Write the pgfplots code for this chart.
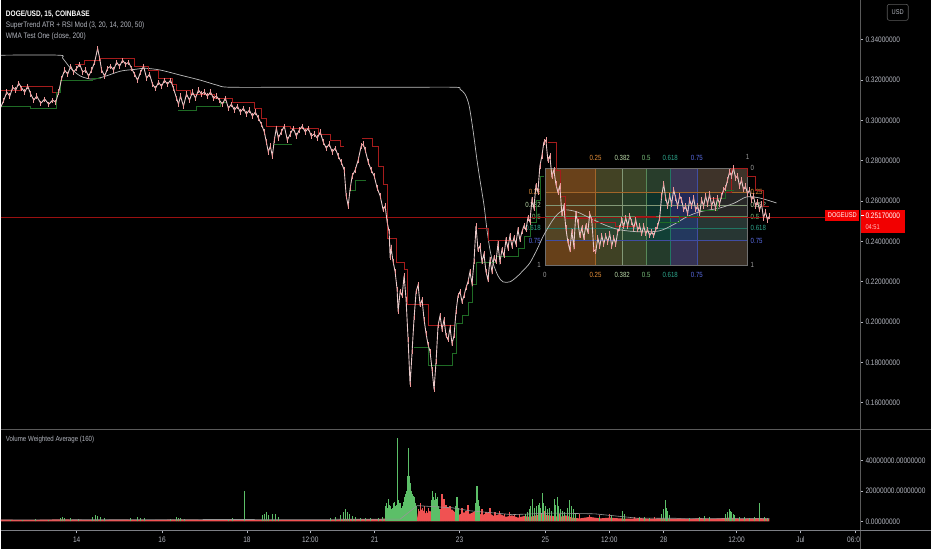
\documentclass[border=0pt]{standalone}
\usepackage{fontspec}
\setmainfont{Liberation Sans}[FakeStretch=0.82]
\usepackage{pgfplots}
\pgfplotsset{compat=1.18}

\definecolor{lbl}{HTML}{B2B5BE}
\definecolor{axgrey}{HTML}{5A5A5A}
\definecolor{candle}{HTML}{E8CACA}
\definecolor{stred}{HTML}{A51C1C}
\definecolor{stgreen}{HTML}{1F6B25}
\definecolor{lastline}{HTML}{9A1010}
\definecolor{wma}{HTML}{BDBDBD}
\definecolor{vgreen}{HTML}{5CBF68}
\definecolor{vred}{HTML}{F05252}
\definecolor{cA}{HTML}{E8913A}
\definecolor{cB}{HTML}{B9D9A8}
\definecolor{cC}{HTML}{7CC47F}
\definecolor{cD}{HTML}{2FA88E}
\definecolor{cE}{HTML}{5B6EE8}
\definecolor{cF}{HTML}{9E9E9E}
\definecolor{pricered}{HTML}{F20000}

\newcommand\tv[1]{\fontsize{#1}{#1}\selectfont}

\begin{document}
\begin{tikzpicture}
\fill[black] (0bp,0bp) rectangle (932bp,550bp);

% ---------------- price panel ----------------
\begin{axis}[
  at={(0bp,120bp)}, anchor=south west, scale only axis,
  width=861bp, height=430bp,
  xmin=0, xmax=861, ymin=0.1466, ymax=0.3595,
  axis line style={draw=none},
  xtick=\empty,
  ytick={0.16,0.18,0.20,0.22,0.24,0.26,0.28,0.30,0.32,0.34},
  yticklabels={0.16000000,0.18000000,0.20000000,0.22000000,0.24000000,0.26000000,0.28000000,0.30000000,0.32000000,0.34000000},
  ytick pos=right, yticklabel pos=right,
  tick align=outside, major tick length=3bp,
  every tick/.style={draw=lbl, line width=0.5bp},
  yticklabel style={font=\tv{8}, text=lbl, anchor=west, inner sep=0pt, xshift=2bp},
  unbounded coords=jump,
]
% fib time zones
\addplot[fill=cA, fill opacity=0.38, draw=none] coordinates {(545,0.2283) (595.75,0.2283) (595.75,0.2763) (545,0.2763)} --cycle;
\addplot[fill=cC!80!cA, fill opacity=0.3, draw=none] coordinates {(595.75,0.2283) (622.5,0.2283) (622.5,0.2763) (595.75,0.2763)} --cycle;
\addplot[fill=cC, fill opacity=0.3, draw=none] coordinates {(622.5,0.2283) (646.5,0.2283) (646.5,0.2763) (622.5,0.2763)} --cycle;
\addplot[fill=cD, fill opacity=0.3, draw=none] coordinates {(646.5,0.2283) (670.5,0.2283) (670.5,0.2763) (646.5,0.2763)} --cycle;
\addplot[fill=cE, fill opacity=0.38, draw=none] coordinates {(670.5,0.2283) (697.25,0.2283) (697.25,0.2763) (670.5,0.2763)} --cycle;
\addplot[fill=cF, fill opacity=0.25, draw=none] coordinates {(697.25,0.2283) (748,0.2283) (748,0.2763) (697.25,0.2763)} --cycle;
% fib price bands
\addplot[fill=cA, fill opacity=0.12, draw=none] coordinates {(545,0.2643) (748,0.2643) (748,0.2763) (545,0.2763)} --cycle;
\addplot[fill=cD, fill opacity=0.12, draw=none] coordinates {(545,0.2403) (748,0.2403) (748,0.2523) (545,0.2523)} --cycle;
\addplot[fill=cA, fill opacity=0.10, draw=none] coordinates {(545,0.2283) (748,0.2283) (748,0.2403) (545,0.2403)} --cycle;
% fib lines
\addplot[cA!70!black, line width=0.6bp] coordinates {(595.75,0.2283) (595.75,0.2763)};
\addplot[cB!70!black, line width=0.6bp] coordinates {(622.5,0.2283) (622.5,0.2763)};
\addplot[cC!70!black, line width=0.6bp] coordinates {(646.5,0.2283) (646.5,0.2763)};
\addplot[cD!70!black, line width=0.6bp] coordinates {(670.5,0.2283) (670.5,0.2763)};
\addplot[cE!70!black, line width=0.6bp] coordinates {(697.25,0.2283) (697.25,0.2763)};
\addplot[cA!70!black, line width=0.6bp] coordinates {(545,0.2643) (748,0.2643)};
\addplot[cB!70!black, line width=0.6bp] coordinates {(545,0.2580) (748,0.2580)};
\addplot[cC!70!black, line width=0.6bp] coordinates {(545,0.2523) (748,0.2523)};
\addplot[cD!70!black, line width=0.6bp] coordinates {(545,0.2466) (748,0.2466)};
\addplot[cE!70!black, line width=0.6bp] coordinates {(545,0.2403) (748,0.2403)};
\addplot[cF!70!black, line width=0.6bp] coordinates {(545,0.2283) (748,0.2283) (748,0.2763) (545,0.2763) (545,0.2283)};
% fib labels
\begin{scope}[every node/.style={font=\tv{7.5}, inner sep=0pt}]
\node[text=cA] at (axis cs:595.75,0.2813) {0.25};
\node[text=cB] at (axis cs:622.5,0.2813) {0.382};
\node[text=cC] at (axis cs:646.5,0.2813) {0.5};
\node[text=cD] at (axis cs:670.5,0.2813) {0.618};
\node[text=cE] at (axis cs:697.25,0.2813) {0.75};
\node[text=cF] at (axis cs:748,0.2818) {1};
\node[text=cF] at (axis cs:545,0.2234) {0};
\node[text=cA] at (axis cs:595.75,0.2234) {0.25};
\node[text=cB] at (axis cs:622.5,0.2234) {0.382};
\node[text=cC] at (axis cs:646.5,0.2234) {0.5};
\node[text=cD] at (axis cs:670.5,0.2234) {0.618};
\node[text=cE] at (axis cs:697.25,0.2234) {0.75};
\node[text=cF, anchor=west] at (axis cs:751,0.2763) {0};
\node[text=cA, anchor=west] at (axis cs:751,0.2643) {0.25};
\node[text=cB, anchor=west] at (axis cs:751,0.2580) {0.382};
\node[text=cC, anchor=west] at (axis cs:751,0.2523) {0.5};
\node[text=cD, anchor=west] at (axis cs:751,0.2466) {0.618};
\node[text=cE, anchor=west] at (axis cs:751,0.2403) {0.75};
\node[text=cF, anchor=west] at (axis cs:751,0.2283) {1};
\node[text=cA, anchor=east] at (axis cs:541,0.2643) {0.25};
\node[text=cB, anchor=east] at (axis cs:541,0.2580) {0.382};
\node[text=cC, anchor=east] at (axis cs:541,0.2523) {0.5};
\node[text=cD, anchor=east] at (axis cs:541,0.2466) {0.618};
\node[text=cE, anchor=east] at (axis cs:541,0.2403) {0.75};
\node[text=cF, anchor=east] at (axis cs:541,0.2283) {1};
\end{scope}
% last price line
\addplot[lastline, line width=0.7bp] coordinates {(0,0.2517) (826,0.2517)};
% WMA (close, 200)
\addplot[wma, line width=0.7bp, smooth] coordinates {
(0,0.3323) (58,0.3323) (62,0.3308) (70,0.3258) (80,0.3219) (92,0.3204) (105,0.3219)
(120,0.3244) (135,0.3253) (145,0.3258) (160,0.3249) (180,0.3224) (200,0.3199) (217,0.3174)
(230,0.3164) (300,0.3164) (400,0.3164) (455,0.3164) (460,0.3154) (465,0.3130) (469,0.3075)
(473,0.2952) (477,0.2803) (480,0.2704) (484,0.2580) (487,0.2457) (490,0.2358) (493,0.2293)
(498,0.2229) (503,0.2199) (510,0.2199) (517,0.2224) (523,0.2254) (530,0.2293) (537,0.2358)
(543,0.2422) (548,0.2466) (553,0.2506) (558,0.2536) (565,0.2556) (577,0.2546) (590,0.2516)
(605,0.2481) (620,0.2457) (640,0.2447) (660,0.2452) (675,0.2486) (687,0.2521) (700,0.2546)
(720,0.2565) (735,0.2590) (747,0.2620) (760,0.2615) (777,0.2590)};
% SuperTrend upper (red)
\addplot[stred, line width=0.55bp] coordinates {
(0,0.3150) (20,0.3150) (20,0.3169) (52,0.3169) (52,0.3140) (57,0.3140) (57,nan)
(74,0.3278) (84,0.3278) (84,0.3298) (100,0.3298) (100,0.3308) (134,0.3308) (134,0.3268)
(148,0.3268) (148,0.3249) (158,0.3249) (158,0.3209) (172,0.3209) (172,0.3179) (176,0.3179)
(176,0.3150) (190,0.3150) (190,0.3130) (214,0.3130) (214,0.3110) (232,0.3110) (232,0.3090)
(254,0.3090) (254,0.3060) (261,0.3060) (261,0.3011) (266,0.3011) (266,0.2971) (290,0.2971)
(290,0.2961) (318,0.2961) (318,0.2932) (330,0.2932) (330,0.2902) (340,0.2902) (340,0.2872)
(344,0.2872) (344,nan)
(362,0.2912) (372,0.2912) (372,0.2872) (378,0.2872) (378,0.2773) (383,0.2773) (383,0.2684)
(387,0.2684) (387,0.2417) (396,0.2417) (396,0.2298) (404,0.2298) (404,0.2259) (407,0.2259)
(407,0.2090) (428,0.2090) (428,0.1981) (454,0.1981) (454,nan)
(478,0.2466) (488,0.2466) (488,0.2407) (514,0.2407) (514,nan)
(548,0.2892) (556,0.2892) (556,0.2754) (560,0.2754) (560,0.2625) (565,0.2625) (565,0.2516)
(593,0.2516) (593,0.2496) (616,0.2496) (616,0.2476) (636,0.2476) (636,0.2526) (656,0.2526)
(656,nan)
(708,0.2615) (722,0.2615) (722,0.2645) (732,0.2645) (732,0.2763) (748,0.2763) (748,0.2724)
(756,0.2724) (756,0.2655) (764,0.2655) (764,0.2575) (770,0.2575)};
% SuperTrend lower (green)
\addplot[stgreen, line width=0.55bp] coordinates {
(0,0.3070) (30,0.3070) (30,0.3060) (56,0.3060) (56,0.3140) (60,0.3140) (60,0.3199)
(92,0.3199) (92,0.3209) (100,0.3209) (100,nan)
(178,0.3051) (196,0.3051) (196,0.3070) (220,0.3070) (220,0.3090) (226,0.3090) (226,nan)
(274,0.2882) (292,0.2882) (292,nan)
(349,0.2655) (355,0.2655) (355,0.2704) (366,0.2704) (366,nan)
(414,0.1872) (428,0.1872) (428,0.1783) (452,0.1783) (452,0.1843) (456,0.1843) (456,0.1991)
(462,0.1991) (462,0.2031) (468,0.2031) (468,0.2100) (472,0.2100) (472,0.2189) (476,0.2189)
(476,0.2298) (496,0.2298) (496,0.2328) (518,0.2328) (518,0.2367) (524,0.2367) (524,0.2427)
(530,0.2427) (530,0.2496) (536,0.2496) (536,0.2605) (540,0.2605) (540,0.2724) (544,0.2724)
(544,nan)
(660,0.2496) (680,0.2496) (680,0.2526) (700,0.2526) (700,0.2556) (718,0.2556) (718,0.2615)
(726,0.2615) (726,0.2655) (734,0.2655)};
% price (close) with candle wicks
\addplot[candle, line width=0.9bp,
  error bars/.cd, y dir=both, y fixed=0.0013, error mark=none,
  error bar style={candle!75!red, line width=0.6bp}] coordinates {
(0,0.3065) (3,0.3100) (6,0.3140) (9,0.3120) (12,0.3164) (15,0.3150) (18,0.3184) (21,0.3159)
(24,0.3140) (27,0.3169) (30,0.3130) (33,0.3100) (36,0.3120) (40,0.3085) (44,0.3105) (48,0.3080)
(52,0.3100) (55,0.3090) (58,0.3140) (61,0.3209) (64,0.3249) (67,0.3229) (70,0.3268) (73,0.3239)
(76,0.3258) (79,0.3278) (82,0.3239) (85,0.3249) (88,0.3219) (91,0.3249) (94,0.3288) (97,0.3357)
(99,0.3308) (101,0.3249) (104,0.3219) (107,0.3258) (110,0.3268) (113,0.3249) (116,0.3288)
(119,0.3268) (122,0.3298) (125,0.3278) (128,0.3288) (131,0.3258) (134,0.3229) (137,0.3199)
(140,0.3239) (143,0.3268) (146,0.3209) (149,0.3229) (152,0.3179) (155,0.3159) (158,0.3189)
(161,0.3169) (164,0.3199) (167,0.3179) (170,0.3199) (173,0.3159) (176,0.3110) (178,0.3080)
(180,0.3120) (183,0.3070) (186,0.3130) (189,0.3100) (192,0.3140) (195,0.3110) (198,0.3150)
(201,0.3130) (204,0.3140) (207,0.3120) (210,0.3140) (213,0.3110) (216,0.3120) (219,0.3100)
(222,0.3080) (225,0.3110) (228,0.3060) (231,0.3080) (234,0.3051) (237,0.3070) (240,0.3041)
(243,0.3060) (246,0.3031) (249,0.3051) (252,0.3021) (255,0.3041) (258,0.3011) (261,0.2981)
(264,0.2942) (266,0.2892) (268,0.2843) (270,0.2872) (272,0.2823) (274,0.2902) (276,0.2961)
(278,0.2912) (281,0.2942) (284,0.2971) (287,0.2902) (290,0.2932) (293,0.2961) (296,0.2922)
(299,0.2952) (302,0.2971) (305,0.2942) (308,0.2961) (311,0.2922) (314,0.2932) (317,0.2912)
(320,0.2942) (323,0.2892) (326,0.2862) (329,0.2882) (332,0.2843) (335,0.2862) (338,0.2823)
(341,0.2793) (344,0.2754) (346,0.2625) (348,0.2575) (350,0.2664) (352,0.2724) (355,0.2754)
(358,0.2803) (361,0.2872) (363,0.2882) (365,0.2853) (368,0.2793) (371,0.2754) (374,0.2724)
(377,0.2664) (380,0.2625) (383,0.2556) (385,0.2575) (387,0.2496) (389,0.2447) (390,0.2318)
(391,0.2367) (393,0.2298) (395,0.2249) (397,0.2160) (398,0.2051) (400,0.2150) (402,0.2130)
(404,0.2229) (406,0.2110) (408,0.1912) (410,0.1689) (412,0.1853) (414,0.2021) (416,0.2150)
(418,0.2184) (420,0.2085) (422,0.2110) (424,0.2011) (426,0.1942) (428,0.1887) (430,0.1853)
(432,0.1764) (434,0.1665) (436,0.1803) (438,0.1981) (440,0.2031) (442,0.1962) (444,0.2011)
(446,0.1932) (448,0.1912) (450,0.1971) (452,0.1892) (454,0.1932) (456,0.2051) (458,0.2130)
(460,0.2150) (462,0.2100) (464,0.2130) (466,0.2169) (468,0.2199) (470,0.2249) (472,0.2189)
(474,0.2298) (476,0.2476) (478,0.2358) (480,0.2377) (482,0.2298) (484,0.2338) (486,0.2249)
(488,0.2209) (490,0.2308) (492,0.2249) (494,0.2318) (496,0.2298) (498,0.2387) (500,0.2298)
(502,0.2358) (504,0.2328) (506,0.2407) (508,0.2367) (510,0.2427) (512,0.2377) (514,0.2417)
(516,0.2387) (518,0.2457) (520,0.2407) (522,0.2447) (524,0.2476) (526,0.2457) (528,0.2516)
(530,0.2496) (532,0.2605) (534,0.2565) (536,0.2674) (538,0.2645) (540,0.2773) (542,0.2823)
(544,0.2892) (546,0.2902) (548,0.2803) (550,0.2823) (552,0.2724) (554,0.2754) (556,0.2684)
(558,0.2645) (560,0.2674) (562,0.2536) (564,0.2575) (566,0.2466) (568,0.2397) (570,0.2358)
(572,0.2447) (574,0.2377) (576,0.2536) (578,0.2496) (580,0.2427) (582,0.2466) (584,0.2417)
(586,0.2476) (588,0.2447) (590,0.2536) (592,0.2506) (594,0.2358) (596,0.2348) (598,0.2417)
(600,0.2377) (602,0.2427) (604,0.2387) (606,0.2427) (608,0.2397) (610,0.2437) (612,0.2377)
(614,0.2417) (616,0.2387) (618,0.2447) (620,0.2466) (622,0.2506) (624,0.2476) (626,0.2516)
(628,0.2476) (630,0.2526) (632,0.2496) (634,0.2466) (636,0.2506) (638,0.2457) (640,0.2476)
(642,0.2437) (644,0.2476) (646,0.2437) (648,0.2457) (650,0.2427) (652,0.2447) (654,0.2427)
(656,0.2457) (658,0.2476) (660,0.2516) (662,0.2625) (664,0.2684) (666,0.2615) (668,0.2575)
(670,0.2625) (672,0.2585) (674,0.2655) (676,0.2615) (678,0.2575) (680,0.2625) (682,0.2605)
(684,0.2556) (686,0.2575) (688,0.2536) (690,0.2605) (692,0.2575) (694,0.2615) (696,0.2556)
(698,0.2575) (700,0.2536) (702,0.2605) (704,0.2575) (706,0.2625) (708,0.2585) (710,0.2635)
(712,0.2575) (714,0.2605) (716,0.2565) (718,0.2615) (720,0.2585) (722,0.2625) (724,0.2655)
(726,0.2664) (728,0.2704) (730,0.2744) (732,0.2724) (734,0.2763) (736,0.2714) (738,0.2724)
(740,0.2674) (742,0.2704) (744,0.2655) (746,0.2674) (748,0.2635) (750,0.2655) (752,0.2605)
(754,0.2625) (756,0.2575) (758,0.2595) (760,0.2556) (762,0.2585) (764,0.2516) (766,0.2546)
(768,0.2506) (770,0.2526)};
\end{axis}

% ---------------- volume panel ----------------
\begin{axis}[
  at={(0bp,19bp)}, anchor=south west, scale only axis,
  width=861bp, height=101bp,
  xmin=0, xmax=861, ymin=-5.9, ymax=60.33,
  axis line style={draw=none},
  ytick={0,20,40},
  yticklabels={0.00000000,20000000.00000000,40000000.00000000},
  ytick pos=right, yticklabel pos=right,
  xtick={76,161.5,246.5,310,374.5,459.5,545.5,609.5,664,737,801,856},
  xticklabels={14,16,18,12:00,21,23,25,12:00,28,12:00,Jul,06:00},
  xtick pos=bottom,
  tick align=outside, major tick length=3bp,
  every tick/.style={draw=lbl, line width=0.5bp},
  yticklabel style={font=\tv{8}, text=lbl, anchor=west, inner sep=0pt, xshift=2bp},
  xticklabel style={font=\tv{8}, text=lbl, anchor=north, inner sep=0pt, yshift=-3bp},
]
\addplot[fill=vred, draw=none] coordinates {
(0,0) (0,1.2) (30,1.0) (60,1.4) (90,1.0) (120,1.2) (150,0.9) (180,1.3) (210,1.0) (240,1.2)
(270,1.0) (300,1.1) (330,1.0) (345,1.5) (380,1.6) (386,2) (417,2) (418,6) (422,8) (426,5)
(430,7) (434,4) (440,6) (446,5) (452,8) (458,4) (464,6) (470,5) (476,7) (482,4) (488,6)
(494,3.5) (500,5) (506,3) (512,4) (518,2.5) (524,3.5) (530,3) (536,4) (542,5) (548,4)
(554,3.5) (560,3) (566,4) (572,2.5) (580,2) (590,3) (600,2) (610,2.5) (620,2) (630,1.8)
(640,2.2) (650,1.8) (660,2) (670,1.8) (680,2) (690,1.6) (700,2.2) (710,1.8) (720,2)
(730,2.5) (740,1.8) (750,2) (760,2.2) (770,1.8) (770,0)} --cycle;
\addplot[ycomb, vred, line width=1.1bp] coordinates {
(418,8) (420,12) (422,9) (424,10) (426,7) (428,9) (440,8) (442,18) (443,14) (444,15)
(446,11) (448,9) (450,10) (452,7) (462,9) (466,7) (468,11) (482,8) (486,6) (490,9)
(495,6) (500,7) (505,5) (510,6) (515,4) (520,5) (545,7) (560,5) (580,5) (590,4)
(600,4) (610,5) (625,4) (635,3) (655,3)};
\addplot[ycomb, vgreen, line width=1.1bp] coordinates {
(10,1.2) (22,1) (35,1.5) (48,1.2) (60,2.5) (62,3) (64,2) (70,2) (78,1.5) (92,3) (95,4.5)
(97,3.5) (100,3) (104,2) (130,2) (137,3) (140,2.5) (144,2) (170,1.5) (176,3) (178,2.5)
(180,2) (184,1.5) (228,1.5) (232,2) (244,20) (262,4) (264,5) (266,6) (268,4) (272,5)
(275,5) (278,3) (330,2) (335,3) (340,4) (343,6) (345,8) (347,6) (349,5) (352,3.5) (355,3)
(360,2.5) (365,2) (370,2.5) (378,2) (382,3)
(385,10) (386,12) (387,9) (388,15) (389,11) (390,10) (391,8) (392,9) (393,12) (394,13)
(395,10) (396,11) (397,55) (398,14) (399,12) (400,12) (401,9) (402,10) (403,13) (404,16)
(405,18) (406,20) (407,30) (408,48) (409,30) (410,25) (411,20) (412,18) (413,17) (414,16)
(415,12) (416,10)
(431,14) (432,20) (433,16) (434,14) (435,19) (436,15) (437,16) (438,10) (439,8)
(456,10) (457,16) (458,9) (476,12) (477,23) (478,14) (479,10)
(526,5) (528,6) (530,8) (531,10) (533,15) (535,9) (537,10) (539,11) (540,12) (541,9)
(543,19) (544,12) (546,10) (548,8) (550,9) (552,7) (555,15) (556,11) (558,16) (559,10)
(561,8) (563,7) (565,6) (568,9) (570,14) (572,10) (574,8) (576,5)
(600,3) (612,4) (623,7) (625,5) (640,3) (645,3) (650,2.5)
(662,5) (664,8) (666,14) (667,9) (668,7) (670,4) (690,2.5) (700,3) (705,3.5) (710,3)
(726,5) (728,6) (730,8) (731,7) (732,6) (734,5) (735,4) (740,3) (745,3) (750,2.5)
(755,3) (760,12) (765,3) (768,2.5)};
% Volume Weighted Average (160)
\addplot[wma!80!black, line width=0.6bp] coordinates {
(0,1.0) (400,1.5) (417,10.4) (452,9) (470,7) (512,4.5) (553,5.5) (595,5) (637,2.2)
(700,2) (770,2)};
\end{axis}

% clip the last time label at the price scale
\fill[black] (862bp,0bp) rectangle (932bp,18.5bp);

% panel frame lines
\draw[axgrey, line width=1.6bp] (0bp,120bp) -- (932bp,120bp);
\draw[axgrey, line width=0.7bp] (861.5bp,0bp) -- (861.5bp,550bp);
\draw[lbl!70!black, line width=0.6bp] (0bp,19bp) -- (932bp,19bp);

% last price label
\fill[pricered] (826bp,329bp) rectangle (860bp,340bp);
\node[white, font=\tv{7}, inner sep=0pt] at (843bp,334.5bp) {DOGEUSD};
\fill[pricered] (862bp,317bp) rectangle (906bp,340bp);
\draw[white, line width=0.5bp] (862bp,334.5bp) -- (865bp,334.5bp);
\node[white, font=\tv{8}, anchor=west, inner sep=0pt] at (866bp,334.5bp) {0.25170000};
\node[text=white!75!red, font=\tv{7}, anchor=west, inner sep=0pt] at (866bp,322.5bp) {04:51};

% currency button
\draw[axgrey, rounded corners=2bp, line width=0.6bp] (888bp,530bp) rectangle (909bp,546bp);
\node[text=lbl, font=\tv{7}, inner sep=0pt] at (898.5bp,538bp) {USD};

% legends
\node[anchor=west, text=white, font=\bfseries\tv{8}, inner sep=0pt] at (5bp,536bp) {DOGE/USD, 15, COINBASE};
\node[anchor=west, text=lbl, font=\tv{8}, inner sep=0pt] at (5bp,525bp) {SuperTrend ATR + RSI Mod (3, 20, 14, 200, 50)};
\node[anchor=west, text=lbl, font=\tv{8}, inner sep=0pt] at (5bp,514bp) {WMA Test One (close, 200)};
\node[anchor=west, text=lbl, font=\tv{7.5}, inner sep=0pt] at (5bp,110bp) {Volume Weighted Average (160)};
\end{tikzpicture}
\end{document}
